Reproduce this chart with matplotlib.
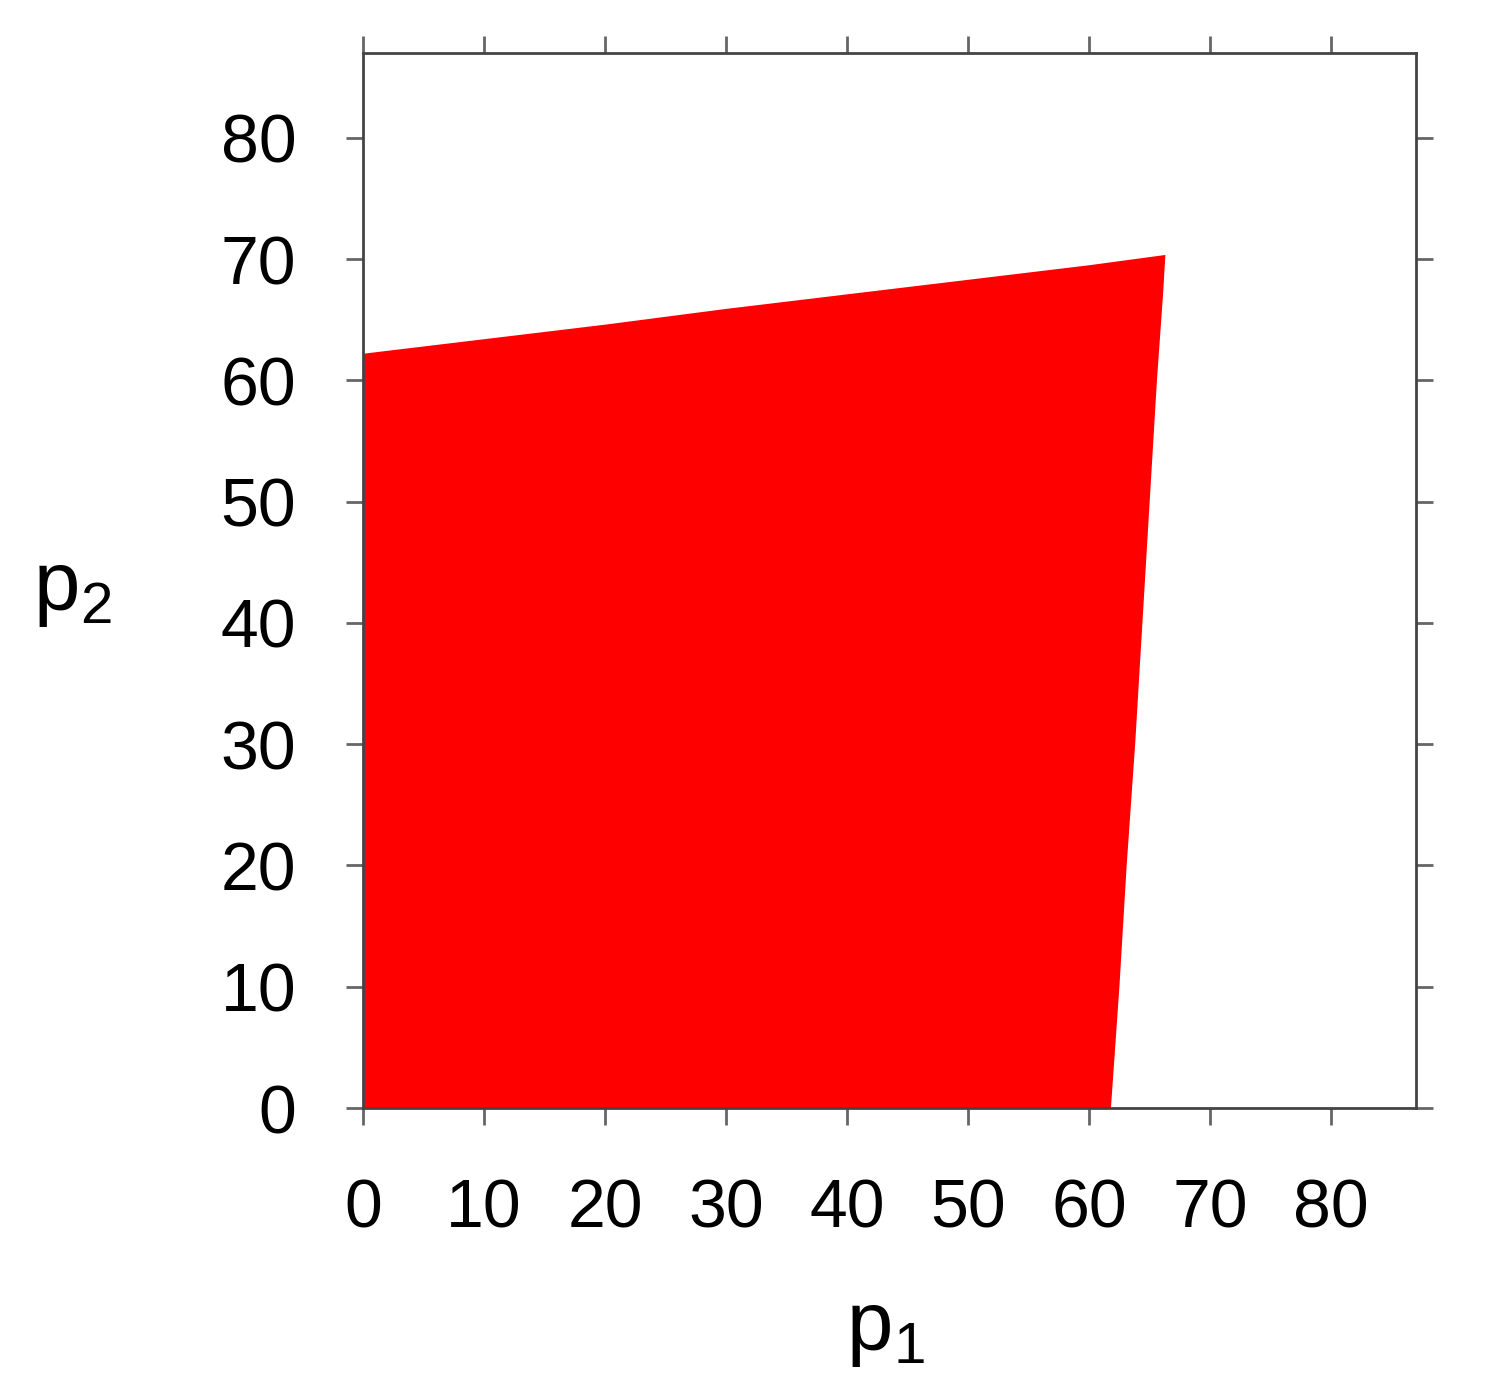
import matplotlib
matplotlib.use("Agg")
import matplotlib.pyplot as plt
import numpy as np

plt.rcParams['font.family'] = ['Liberation Sans', 'DejaVu Sans']
plt.rcParams['mathtext.fontset'] = 'custom'
plt.rcParams['mathtext.rm'] = 'Liberation Sans'
plt.rcParams['mathtext.default'] = 'regular'

# Boundary of the feasible region (p1, p2)
upper_p1 = [0.0, 10.0, 20.0, 30.0, 40.0, 50.0, 60.0, 66.3]
upper_p2 = [62.2, 63.4, 64.6, 65.9, 67.1, 68.3, 69.5, 70.35]
right_p1 = [66.3, 66.1, 65.6, 65.0, 64.4, 63.8, 63.1, 62.5, 61.8]
right_p2 = [70.35, 67.0, 60.0, 50.0, 40.0, 30.0, 20.0, 10.0, 0.0]

ticks = [0, 10, 20, 30, 40, 50, 60, 70, 80]

fig = plt.figure(figsize=(14.85, 13.89), dpi=100)
ax = fig.add_axes([0.2444, 0.2023, 0.7091, 0.7595])

xs = [0.0] + upper_p1 + right_p1[1:] + [0.0]
ys = [0.0] + upper_p2 + right_p2[1:] + [0.0]
ax.fill(xs, ys, color='#ff0000', lw=0, zorder=1)

ax.set_xlim(0, 87)
ax.set_ylim(0, 87)
ax.set_xticks(ticks)
ax.set_yticks(ticks)
ax.tick_params(axis='both', which='both', direction='out', length=12, width=2,
               color='#666666', labelsize=49)
ax.tick_params(top=True, right=True, labeltop=False, labelright=False)
ax.tick_params(axis='x', pad=38)
ax.tick_params(axis='y', pad=36)
for s in ax.spines.values():
    s.set_color('#444444')
    s.set_linewidth(2)

ax.set_xlabel('p$_1$', fontsize=60, va='center')
ax.xaxis.set_label_coords(0.496, -0.21)
ax.set_ylabel('p$_2$', fontsize=60, rotation=0, va='center', ha='center')
ax.yaxis.set_label_coords(-0.276, 0.491)

fig.savefig('out.png', dpi=100)
